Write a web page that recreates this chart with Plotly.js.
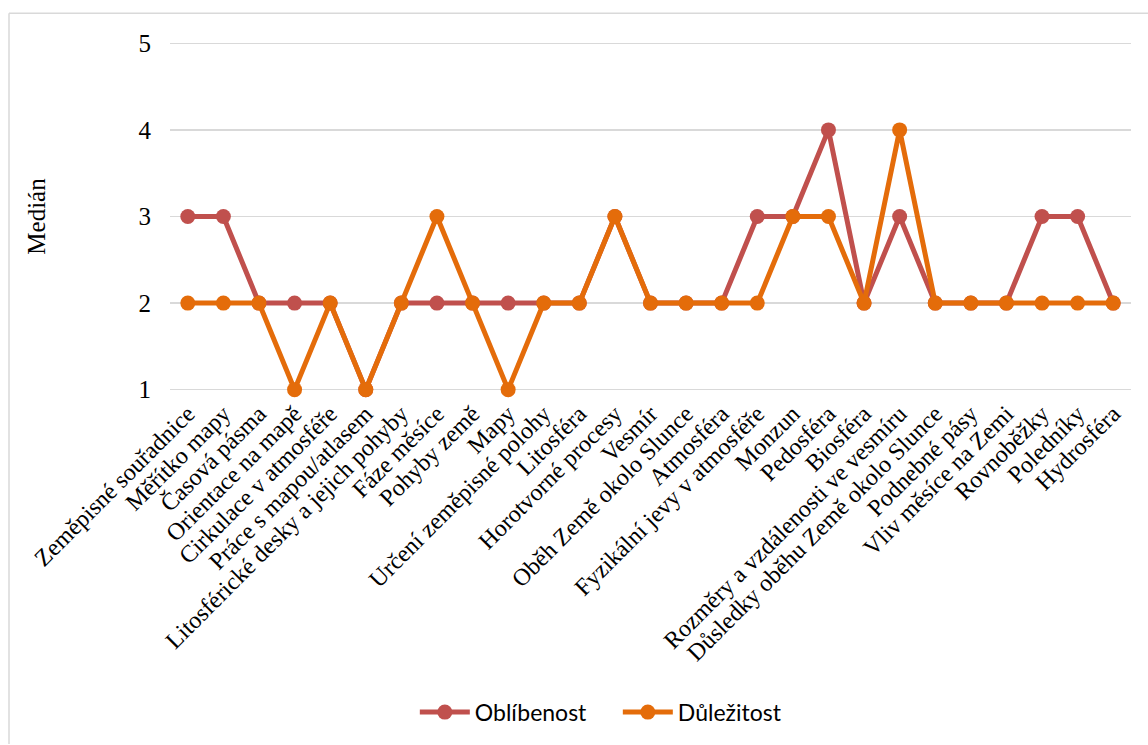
<!DOCTYPE html>
<html>
<head>
<meta charset="utf-8">
<script src="https://cdn.plot.ly/plotly-3.0.1.min.js"></script>
<style>
  html, body { margin: 0; padding: 0; background: #fff; }
  #chart { width: 1148px; height: 745px; }
</style>
</head>
<body>
<div id="chart"></div>
<script>
// Témata zeměpisu a mediány hodnocení
const temata = [
  "Zeměpisné souřadnice", "Měřítko mapy", "Časová pásma", "Orientace na mapě",
  "Cirkulace v atmosféře", "Práce s mapou/atlasem", "Litosférické desky a jejich pohyby",
  "Fáze měsíce", "Pohyby země", "Mapy", "Určení zeměpisné polohy", "Litosféra",
  "Horotvorné procesy", "Vesmír", "Oběh Země okolo Slunce", "Atmosféra",
  "Fyzikální jevy v atmosféře", "Monzun", "Pedosféra", "Biosféra",
  "Rozměry a vzdálenosti ve vesmíru", "Důsledky oběhu Země okolo Slunce",
  "Podnebné pásy", "Vliv měsíce na Zemi", "Rovnoběžky", "Poledníky", "Hydrosféra"
];
const oblibenost = [3, 3, 2, 2, 2, 1, 2, 2, 2, 2, 2, 2, 3, 2, 2, 2, 3, 3, 4, 2, 3, 2, 2, 2, 3, 3, 2];
const dulezitost = [2, 2, 2, 1, 2, 1, 2, 3, 2, 1, 2, 2, 3, 2, 2, 2, 2, 3, 3, 2, 4, 2, 2, 2, 2, 2, 2];
const osaYHodnoty = [1, 2, 3, 4, 5];

const serif = "Liberation Serif, Times New Roman, serif";

function rada(nazev, hodnoty, barva) {
  return {
    type: "scatter",
    mode: "lines+markers",
    name: nazev,
    x: temata,
    y: hodnoty,
    line: { color: barva, width: 5 },
    marker: { color: barva, size: 15 },
    cliponaxis: false
  };
}

const data = [
  rada("Oblíbenost", oblibenost, "#C0504D"),
  rada("Důležitost", dulezitost, "#E46C0A")
];

// ohraničení grafu (horní a levá hrana)
const bx0 = (9 - 170) / 961, bx1 = (1148 - 170) / 961;
const by1 = (394.3 - 13) / 355.6, by0 = (394.3 - 745) / 355.6;

const layout = {
  width: 1148,
  height: 745,
  margin: { l: 170, r: 17, t: 38.7, b: 350.7 },
  paper_bgcolor: "#ffffff",
  plot_bgcolor: "#ffffff",
  showlegend: true,
  legend: {
    orientation: "h",
    x: 0.466, xanchor: "center",
    y: by0 + 0.09, yanchor: "middle",
    font: { family: "Lato, Carlito, Calibri, sans-serif", size: 23, color: "#000" },
    entrywidth: 138,
    itemwidth: 50,
    tracegroupgap: 0
  },
  xaxis: {
    type: "category",
    categoryorder: "array",
    categoryarray: temata,
    range: [-0.5, temata.length - 0.5],
    showgrid: false,
    zeroline: false,
    showline: false,
    ticks: "",
    tickangle: -45,
    tickfont: { family: serif, size: 24, color: "#000" },
    fixedrange: true
  },
  yaxis: {
    range: [0.95, 5.05],
    tickmode: "array",
    tickvals: osaYHodnoty,
    ticktext: osaYHodnoty.map(String),
    showgrid: true,
    gridcolor: "#d9d9d9",
    gridwidth: 1.3,
    zeroline: false,
    showline: false,
    ticks: "",
    ticklabelstandoff: 18,
    tickfont: { family: serif, size: 25, color: "#000" },
    title: { text: "Medián", font: { family: serif, size: 25, color: "#000" }, standoff: 85 },
    fixedrange: true
  },
  shapes: [
    { type: "line", xref: "paper", yref: "paper", x0: bx0, x1: bx1, y0: by1, y1: by1,
      line: { color: "#d9d9d9", width: 1.5 } },
    { type: "line", xref: "paper", yref: "paper", x0: bx0, x1: bx0, y0: by1, y1: by0,
      line: { color: "#d9d9d9", width: 1.5 } }
  ]
};

Plotly.newPlot("chart", data, layout, { displayModeBar: false, staticPlot: true });
</script>
</body>
</html>
